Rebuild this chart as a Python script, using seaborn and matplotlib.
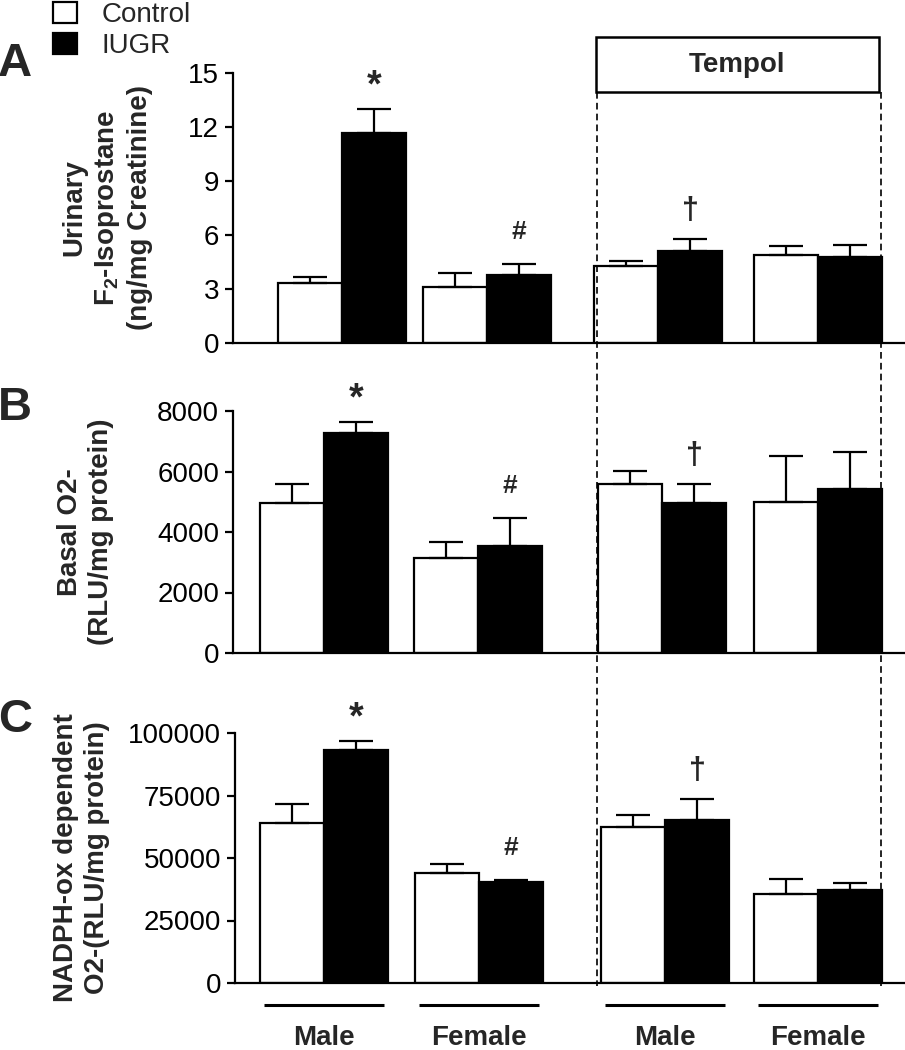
import numpy as np
import pandas as pd
import matplotlib
matplotlib.use("Agg")
import matplotlib.pyplot as plt
import matplotlib.transforms as mtransforms
from matplotlib.patches import Patch, Rectangle
from matplotlib.lines import Line2D
import seaborn as sns

# ---------------- data ----------------
group_keys = ["Male", "Female", "Tempol Male", "Tempol Female"]
tick_labels = ["Male", "Female", "Male", "Female"]
conditions = ["Control", "IUGR"]

iso_control = [3.33, 3.10, 4.28, 4.89]
iso_control_sem = [0.33, 0.80, 0.28, 0.50]
iso_iugr = [11.67, 3.78, 5.11, 4.78]
iso_iugr_sem = [1.33, 0.60, 0.67, 0.67]

basal_control = [4950, 3140, 5590, 4990]
basal_control_sem = [640, 530, 430, 1520]
basal_iugr = [7270, 3540, 4960, 5420]
basal_iugr_sem = [370, 930, 630, 1220]

nadph_control = [64000, 44200, 62400, 35800]
nadph_control_sem = [7500, 3600, 5000, 6000]
nadph_iugr = [93400, 40400, 65400, 37100]
nadph_iugr_sem = [3400, 1000, 8100, 2900]

iugr_marks = ["*", "#", "\u2020", ""]

yticks_a = [0, 3, 6, 9, 12, 15]
yticks_b = [0, 2000, 4000, 6000, 8000]
yticks_c = [0, 25000, 50000, 75000, 100000]

# ---------------- layout (pixels) ----------------
W, H = 905, 1050
BAR_W = 64
palette = {"Control": "white", "IUGR": "black"}

sns.set_style("ticks")
plt.rcParams["font.family"] = ["Liberation Sans", "DejaVu Sans"]
plt.rcParams["mathtext.fontset"] = "custom"
plt.rcParams["mathtext.bf"] = "Liberation Sans:bold"
plt.rcParams["mathtext.rm"] = "Liberation Sans"

fig = plt.figure(figsize=(W / 100, H / 100), dpi=100)


def px_rect(l, t, r, b):
    return [l / W, 1 - b / H, (r - l) / W, (b - t) / H]


mark_style = {
    "*": dict(fontsize=27, fontweight="bold", dy=16),
    "#": dict(fontsize=19, fontweight="bold", dy=23),
    "\u2020": dict(fontsize=22, fontweight="bold", dy=20),
}


def draw_panel(rect, centers, ctrl, ctrl_sem, iugr, iugr_sem, ylim, yticks,
               ylabel, label_x, letter, letter_xy):
    l, t, r, b = rect
    ax = fig.add_axes(px_rect(l, t, r, b))
    df = pd.DataFrame({
        "pos": list(centers) * 2,
        "group": group_keys * 2,
        "condition": ["Control"] * 4 + ["IUGR"] * 4,
        "value": ctrl + iugr,
        "sem": ctrl_sem + iugr_sem,
    })
    min_gap = np.min(np.diff(sorted(centers)))
    sns.barplot(data=df, x="pos", y="value", hue="condition", hue_order=conditions,
                native_scale=True, palette=palette, saturation=1,
                width=2 * BAR_W / min_gap, edgecolor="black", linewidth=1.6,
                errorbar=None, legend=False, ax=ax, zorder=2)
    for cont, cond in zip(ax.containers, conditions):
        sub = df[df.condition == cond].sort_values("pos")
        xs = np.array([p.get_x() + p.get_width() / 2 for p in cont])
        tops = np.array([p.get_height() for p in cont])
        errs = sub["sem"].values
        ax.errorbar(xs, tops, yerr=[np.zeros(len(errs)), errs], fmt="none",
                    ecolor="black", elinewidth=1.6, capsize=12.5, capthick=1.6,
                    zorder=3)
        if cond == "IUGR":
            for x, top, e, m in zip(xs, tops, errs, iugr_marks):
                if not m:
                    continue
                st = mark_style[m]
                ax.annotate(m, (x, top + e), xytext=(0, st["dy"]),
                            textcoords="offset points", ha="center", va="center",
                            fontsize=st["fontsize"], fontweight=st["fontweight"],
                            annotation_clip=False)
    ax.set_xlim(l, r)
    ax.set_ylim(*ylim)
    ax.set_yticks(yticks, labels=[str(v) for v in yticks])
    ax.set_xticks([])
    ax.set_xlabel("")
    sns.despine(ax=ax)
    for s in ("left", "bottom"):
        ax.spines[s].set_linewidth(1.6)
        ax.spines[s].set_color("black")
    ax.tick_params(axis="y", labelsize=20, width=1.6, length=6, pad=4,
                   color="black", labelcolor="black")
    ax.set_ylabel(ylabel, fontsize=20, fontweight="bold", linespacing=1.27)
    ax.yaxis.set_label_coords(label_x / W, 0.5,
                              transform=mtransforms.blended_transform_factory(
                                  fig.transFigure, ax.transAxes))
    fig.text(letter_xy[0] / W, 1 - letter_xy[1] / H, letter, fontsize=34,
             fontweight="bold", ha="left", va="center")
    return ax


ax_a = draw_panel((233, 73, 905, 343), [342, 487, 658, 818],
                  iso_control, iso_control_sem, iso_iugr, iso_iugr_sem,
                  (0, 15), yticks_a,
                  "Urinary\n$\\mathbf{F_2}$-Isoprostane\n(ng/mg Creatinine)",
                  153, "A", (-2, 64))
ax_b = draw_panel((233, 411, 905, 653), [324, 478, 662, 818],
                  basal_control, basal_control_sem, basal_iugr, basal_iugr_sem,
                  (0, 8000), yticks_b,
                  "Basal O2-\n(RLU/mg protein)",
                  114, "B", (-2, 408))
ax_c = draw_panel((235, 733, 905, 983), [324, 479, 665, 818],
                  nadph_control, nadph_control_sem, nadph_iugr, nadph_iugr_sem,
                  (0, 100000), yticks_c,
                  "NADPH-ox dependent\nO2-(RLU/mg protein)",
                  110, "C", (-2, 720))

# group labels and underlines for the bottom panel
centers_c = [324, 479, 665, 818]
ax_c.set_xticks(centers_c, labels=tick_labels)
ax_c.tick_params(axis="x", length=0, pad=30, labelsize=20)
for lab in ax_c.get_xticklabels():
    lab.set_fontweight("bold")
line_y = -(1005 - 983) / (983 - 733)
trans = mtransforms.blended_transform_factory(ax_c.transData, ax_c.transAxes)
for c in centers_c:
    ax_c.plot([c - 60, c + 60], [line_y, line_y], transform=trans, color="black",
              lw=2.2, clip_on=False, solid_capstyle="butt")

# Tempol box and dashed guides
fig.add_artist(Rectangle((596 / W, 1 - 92 / H), (879 - 596) / W, (92 - 37) / H,
                         transform=fig.transFigure, fill=False, lw=1.8,
                         edgecolor="black"))
fig.text(737 / W, 1 - 65 / H, "Tempol", fontsize=20, fontweight="bold",
         ha="center", va="center")
for xpx in (597, 881):
    fig.add_artist(Line2D([xpx / W, xpx / W], [1 - 92 / H, 1 - 986 / H],
                          transform=fig.transFigure, color="black", lw=1.2,
                          linestyle=(0, (4, 2.5))))

# legend
handles = [Patch(facecolor="white", edgecolor="black", linewidth=1.6, label="Control"),
           Patch(facecolor="black", edgecolor="black", linewidth=1.6, label="IUGR")]
fig.legend(handles=handles, loc="upper left", bbox_to_anchor=(53 / W, 1 - 2 / H),
           frameon=False, fontsize=20, handlelength=0.86, handleheight=0.78,
           handletextpad=0.9, labelspacing=0.17, borderpad=0, borderaxespad=0)

fig.savefig("out.png", dpi=100)
